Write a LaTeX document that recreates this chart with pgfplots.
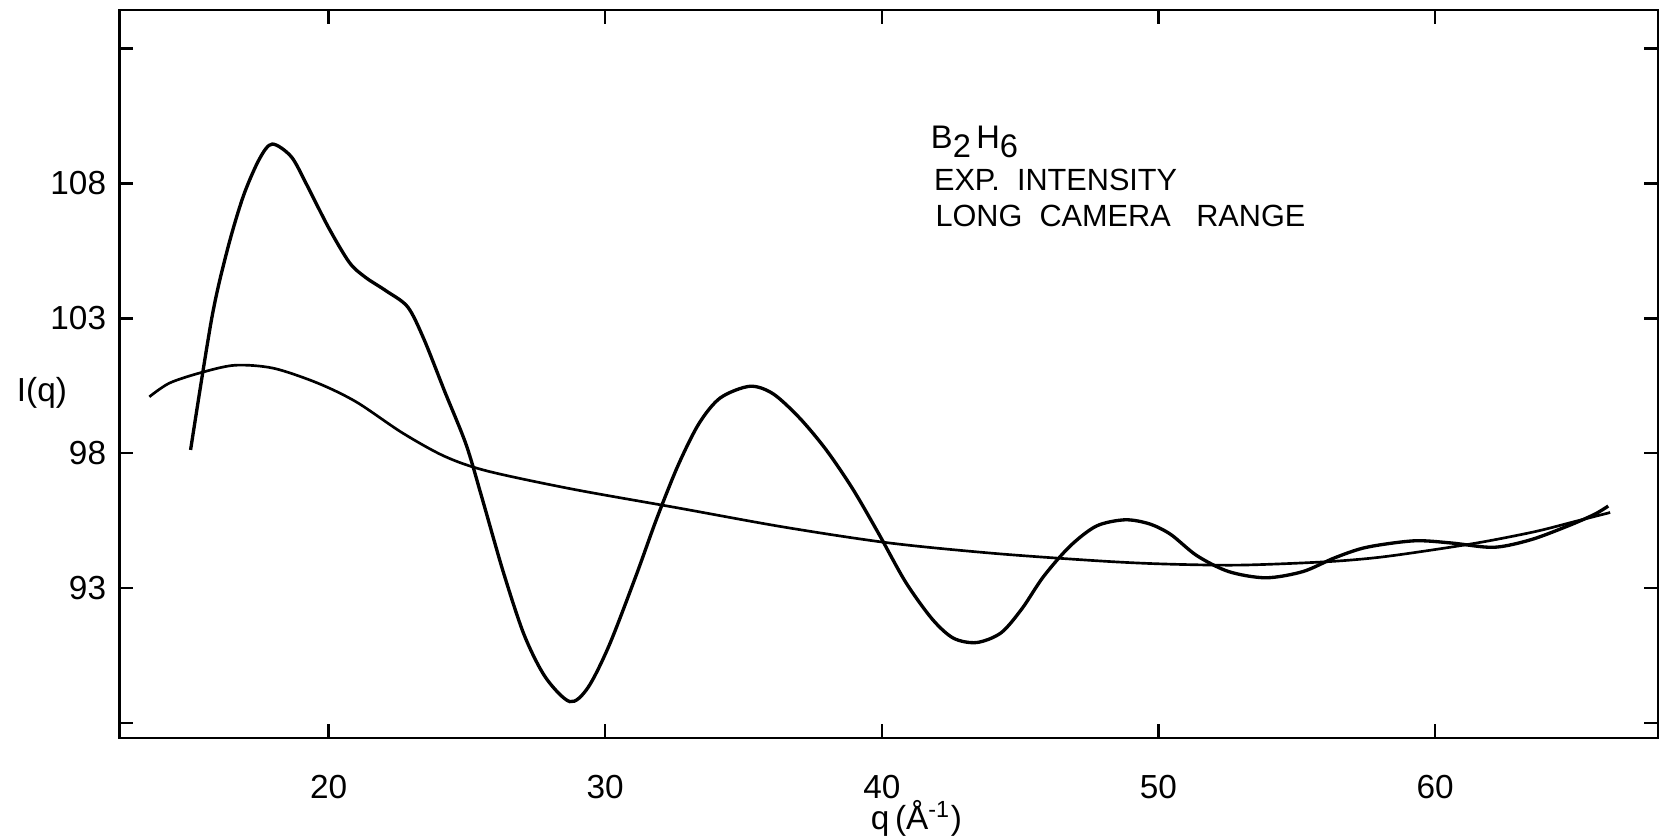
\documentclass[border=0pt]{standalone}
\usepackage{pgfplots}
\pgfplotsset{compat=1.18}
\usepackage{fontspec}
\setmainfont{Liberation Sans}

% measured intensity (oscillating) and smooth background
\pgfplotstableread{
q I
15.01 98.12
15.78 103.03
16.35 105.58
16.92 107.54
17.50 108.91
17.96 109.46
18.65 108.99
19.22 107.93
20.00 106.36
20.75 105.07
21.33 104.52
22.09 104.01
22.86 103.42
23.44 102.24
24.20 100.28
24.97 98.32
25.54 96.36
26.31 93.61
27.07 91.26
27.84 89.69
28.72 88.79
29.37 89.30
30.14 90.87
31.10 93.42
31.86 95.57
32.63 97.54
33.39 99.10
34.16 100.05
35.23 100.48
36.07 100.20
37.03 99.30
37.99 98.12
38.95 96.67
39.90 94.99
40.86 93.22
41.82 91.85
42.59 91.14
43.43 90.98
44.31 91.34
45.07 92.24
45.84 93.42
46.80 94.55
47.76 95.30
48.79 95.53
49.67 95.38
50.44 94.99
51.39 94.20
52.54 93.61
53.88 93.38
55.22 93.61
56.37 94.12
57.52 94.51
59.24 94.75
60.59 94.67
62.12 94.51
63.46 94.79
64.80 95.30
65.76 95.73
66.26 96.04
}\expint

\pgfplotstableread{
q I
13.52 100.09
14.25 100.60
15.40 100.99
16.62 101.26
18.00 101.15
19.60 100.60
21.00 99.90
22.67 98.75
24.20 97.88
25.73 97.34
28.80 96.67
32.63 95.97
36.46 95.26
40.28 94.67
44.11 94.28
47.95 94.00
50.25 93.89
52.93 93.85
55.99 93.97
57.90 94.13
59.82 94.40
61.73 94.71
63.65 95.10
65.18 95.50
66.33 95.80
}\background

\begin{document}
\begin{tikzpicture}
\begin{axis}[
  scale only axis,
  width=461.55pt, height=218.4pt,
  xmin=12.44, xmax=68.06,
  ymin=87.44, ymax=114.43,
  xtick={20,30,40,50,60},
  ytick={88,93,98,103,108,113},
  yticklabels={,93,98,103,108,},
  tick align=inside,
  major tick length=4.2pt,
  every tick/.style={black, line width=0.75pt},
  axis line style={line width=0.8pt},
  tick label style={font=\fontsize{10}{11}\selectfont},
  /pgf/number format/assume math mode=true,
  xticklabel style={yshift=-7.5pt},
  yticklabel style={xshift=-0.5pt},
  clip=false,
]
\addplot[black, line width=0.8pt, smooth] table[x=q, y=I] {\background};
\addplot[black, line width=1pt, smooth] table[x=q, y=I] {\expint};

\node[inner sep=0pt, anchor=base west, font=\fontsize{9.8}{10}\selectfont] at (axis description cs:0.527,0.8104)
  {B\raisebox{-0.55ex}{2}\,H\raisebox{-0.55ex}{6}};
\node[inner sep=0pt, anchor=base west, font=\fontsize{9.2}{10}\selectfont] at (axis description cs:0.529,0.7527)
  {EXP.\ \ INTENSITY};
\node[inner sep=0pt, anchor=base west, font=\fontsize{9.2}{10}\selectfont] at (axis description cs:0.530,0.7033)
  {LONG\ \ CAMERA\ \ \ RANGE};
\node[font=\fontsize{10}{11}\selectfont] at (axis description cs:0.518,-0.111)
  {q\,(Å\textsuperscript{-1})};
\node[font=\fontsize{10}{11}\selectfont] at (axis description cs:-0.0504,0.474) {I(q)};
\end{axis}
\pgfresetboundingbox
\path ([xshift=-35.85pt,yshift=-30.3pt]current axis.south west)
  rectangle ([xshift=0.9pt,yshift=3pt]current axis.north east);
\end{tikzpicture}
\end{document}
